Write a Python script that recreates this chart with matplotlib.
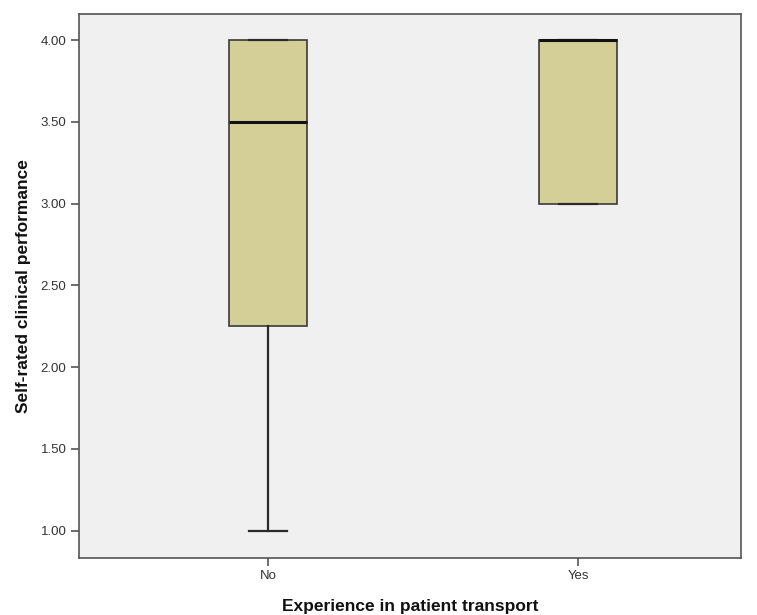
import matplotlib
matplotlib.use("Agg")
import matplotlib.pyplot as plt

plt.rcParams["font.family"] = ["Liberation Sans", "DejaVu Sans"]

# Five-number summaries per group
groups = ["No", "Yes"]
whisker_low = [1.00, 3.00]
q1 = [2.25, 3.00]
medians = [3.50, 4.00]
q3 = [4.00, 4.00]
whisker_high = [4.00, 4.00]

y_ticks = [1.00, 1.50, 2.00, 2.50, 3.00, 3.50, 4.00]

stats = []
for g, lo, a, m, b, hi in zip(groups, whisker_low, q1, medians, q3, whisker_high):
    stats.append(dict(label=g, whislo=lo, q1=a, med=m, q3=b, whishi=hi, fliers=[]))

fig = plt.figure(figsize=(7.57, 6.15), dpi=100)
ax = fig.add_axes([0.1044, 0.0927, 0.8746, 0.8853])
ax.set_facecolor("#f0f0f0")

ax.bxp(stats, positions=[1, 2], widths=0.25, patch_artist=True,
       boxprops=dict(facecolor="#d3cf97", edgecolor="#3a3a3a", linewidth=1.2),
       medianprops=dict(color="#111111", linewidth=2.2),
       whiskerprops=dict(color="#2a2a2a", linewidth=1.6),
       capprops=dict(color="#2a2a2a", linewidth=1.6),
       capwidths=0.125, showfliers=False)

ax.set_xlim(0.39, 2.526)
ax.set_ylim(0.833, 4.162)
ax.set_yticks(y_ticks)
ax.set_yticklabels([f"{v:.2f}" for v in y_ticks])
ax.set_xticks([1, 2])
ax.set_xticklabels(groups)

for s in ax.spines.values():
    s.set_color("#555555")
    s.set_linewidth(1.2)
ax.tick_params(axis="both", direction="out", length=6, width=1.2, color="#555555",
               labelsize=9.5, labelcolor="#333333", pad=3)

ax.set_ylabel("Self-rated clinical performance", fontsize=12.5, fontweight="bold",
              color="#111111", labelpad=7)
ax.set_xlabel("Experience in patient transport", fontsize=12.5, fontweight="bold",
              color="#111111", labelpad=12)

fig.savefig("out.png", dpi=100)
